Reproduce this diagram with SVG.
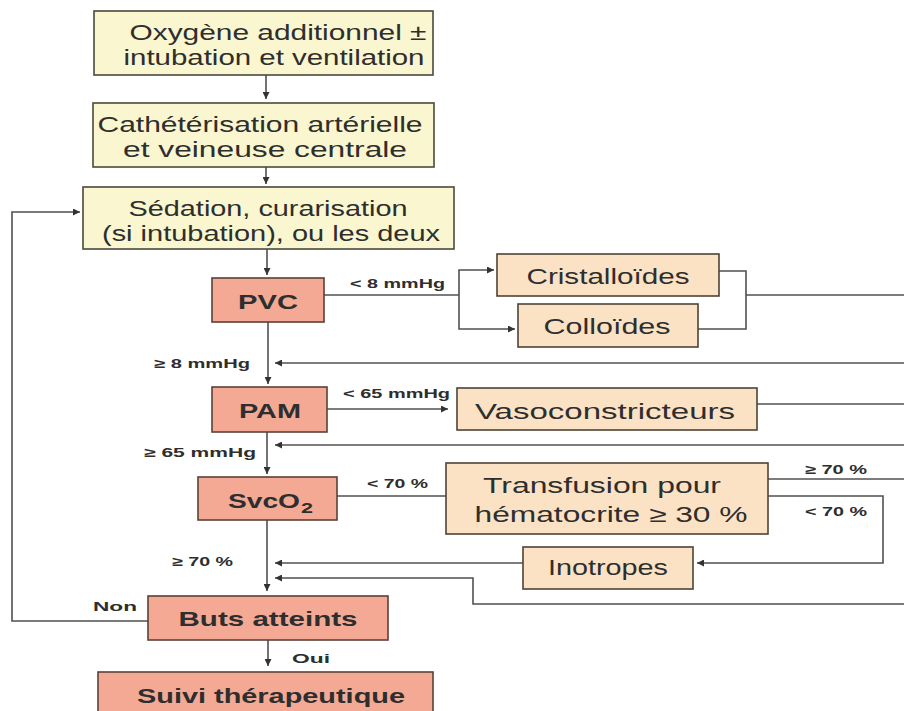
<svg xmlns="http://www.w3.org/2000/svg" width="904" height="711" viewBox="0 0 904 711">
<defs>
<style>
.y{fill:#faf6cf;stroke:#4a4a3c;stroke-width:1.6}
.s{fill:#f3a994;stroke:#5a4038;stroke-width:1.6}
.p{fill:#fbe2c4;stroke:#4e4436;stroke-width:1.6}
text{font-family:"Liberation Sans",Arial,sans-serif;fill:#2e2e2e;}
.t{font-size:22px;text-anchor:middle}
.b{font-size:21px;font-weight:bold;text-anchor:middle}
.l{font-size:13px;font-weight:bold}
.c{fill:none;stroke:#505050;stroke-width:1.6}
</style>
<marker id="a" viewBox="0 0 10 10" refX="10" refY="5" markerWidth="7" markerHeight="7" orient="auto" markerUnits="userSpaceOnUse">
<path d="M0,0 L10,5 L0,10 z" fill="#333"/>
</marker>
</defs>
<rect width="904" height="711" fill="#fff"/>
<g id="connectors">
<path class="c" d="M266,75 V99" marker-end="url(#a)"/>
<path class="c" d="M266,167 V184" marker-end="url(#a)"/>
<path class="c" d="M267,249 V275" marker-end="url(#a)"/>
<path class="c" d="M324,295 H459"/>
<path class="c" d="M459,295 V270 H494" marker-end="url(#a)"/>
<path class="c" d="M459,295 V329 H515" marker-end="url(#a)"/>
<path class="c" d="M719,271 H746 V329 H698"/>
<path class="c" d="M746,295 H904"/>
<path class="c" d="M904,363 H275" marker-end="url(#a)"/>
<path class="c" d="M268,322 V384" marker-end="url(#a)"/>
<path class="c" d="M327,409 H448" marker-end="url(#a)"/>
<path class="c" d="M757,404 H904"/>
<path class="c" d="M904,445 H275" marker-end="url(#a)"/>
<path class="c" d="M267,432 V474" marker-end="url(#a)"/>
<path class="c" d="M337,496 H446"/>
<path class="c" d="M768,479 H904"/>
<path class="c" d="M768,496 H883 V563 H697" marker-end="url(#a)"/>
<path class="c" d="M523,563 H275" marker-end="url(#a)"/>
<path class="c" d="M904,604 H473 V578 H275" marker-end="url(#a)"/>
<path class="c" d="M267,520 V591" marker-end="url(#a)"/>
<path class="c" d="M148,621 H12 V212 H80" marker-end="url(#a)"/>
<path class="c" d="M268,640 V666" marker-end="url(#a)"/>
<text class="l" x="350" y="288" textLength="95" lengthAdjust="spacingAndGlyphs">&lt; 8 mmHg</text>
<text class="l" x="250" y="368" text-anchor="end" textLength="96" lengthAdjust="spacingAndGlyphs">≥ 8 mmHg</text>
<text class="l" x="343" y="398" textLength="107" lengthAdjust="spacingAndGlyphs">&lt; 65 mmHg</text>
<text class="l" x="256" y="457" text-anchor="end" textLength="112" lengthAdjust="spacingAndGlyphs">≥ 65 mmHg</text>
<text class="l" x="367" y="488" textLength="61" lengthAdjust="spacingAndGlyphs">&lt; 70 %</text>
<text class="l" x="805" y="474" textLength="62" lengthAdjust="spacingAndGlyphs">≥ 70 %</text>
<text class="l" x="805" y="516" textLength="62" lengthAdjust="spacingAndGlyphs">&lt; 70 %</text>
<text class="l" x="233" y="566" text-anchor="end" textLength="61" lengthAdjust="spacingAndGlyphs">≥ 70 %</text>
<text class="l" x="93" y="611" font-size="16" textLength="44" lengthAdjust="spacingAndGlyphs">Non</text>
<text class="l" x="292" y="663" font-size="16" textLength="38" lengthAdjust="spacingAndGlyphs">Oui</text>
</g>
<g id="n1">
<rect class="y" x="94" y="11" width="339" height="64"/>
<text class="t" x="278" y="40" textLength="297" lengthAdjust="spacingAndGlyphs">Oxygène additionnel ±</text>
<text class="t" x="274" y="65" textLength="301" lengthAdjust="spacingAndGlyphs">intubation et ventilation</text>
</g>
<g id="n2">
<rect class="y" x="93" y="103" width="341" height="64"/>
<text class="t" x="260" y="132" textLength="325" lengthAdjust="spacingAndGlyphs">Cathétérisation artérielle</text>
<text class="t" x="265" y="157" textLength="284" lengthAdjust="spacingAndGlyphs">et veineuse centrale</text>
</g>
<g id="n3">
<rect class="y" x="83" y="187" width="371" height="62"/>
<text class="t" x="268" y="216" textLength="279" lengthAdjust="spacingAndGlyphs">Sédation, curarisation</text>
<text class="t" x="271" y="241" textLength="338" lengthAdjust="spacingAndGlyphs">(si intubation), ou les deux</text>
</g>
<g id="pvc">
<rect class="s" x="212" y="278" width="112" height="44"/>
<text class="b" x="268" y="309" textLength="60" lengthAdjust="spacingAndGlyphs">PVC</text>
</g>
<g id="cristalloides">
<rect class="p" x="497" y="254" width="222" height="42"/>
<text class="t" x="608" y="284" font-size="21" textLength="163" lengthAdjust="spacingAndGlyphs">Cristalloïdes</text>
</g>
<g id="colloides">
<rect class="p" x="518" y="304" width="180" height="43"/>
<text class="t" x="607" y="334" font-size="21" textLength="127" lengthAdjust="spacingAndGlyphs">Colloïdes</text>
</g>
<g id="pam">
<rect class="s" x="212" y="387" width="115" height="45"/>
<text class="b" x="270" y="418" textLength="62" lengthAdjust="spacingAndGlyphs">PAM</text>
</g>
<g id="vaso">
<rect class="p" x="457" y="388" width="300" height="42"/>
<text class="t" x="605" y="419" font-size="25" textLength="260" lengthAdjust="spacingAndGlyphs">Vasoconstricteurs</text>
</g>
<g id="svco2">
<rect class="s" x="198" y="477" width="139" height="43"/>
<text x="228" y="508" font-size="21" font-weight="bold" textLength="72" lengthAdjust="spacingAndGlyphs">SvcO</text>
<text x="301" y="513" font-size="15" font-weight="bold" textLength="12" lengthAdjust="spacingAndGlyphs">2</text>
</g>
<g id="transfusion">
<rect class="p" x="446" y="463" width="322" height="71"/>
<text class="t" x="602" y="493" font-size="24" textLength="238" lengthAdjust="spacingAndGlyphs">Transfusion pour</text>
<text class="t" x="611" y="522" font-size="24" textLength="273" lengthAdjust="spacingAndGlyphs">hématocrite ≥ 30 %</text>
</g>
<g id="inotropes">
<rect class="p" x="523" y="547" width="170" height="42"/>
<text class="t" x="608" y="575" font-size="21" textLength="120" lengthAdjust="spacingAndGlyphs">Inotropes</text>
</g>
<g id="buts">
<rect class="s" x="148" y="596" width="240" height="44"/>
<text class="b" x="268" y="626" font-size="22" textLength="179" lengthAdjust="spacingAndGlyphs">Buts atteints</text>
</g>
<g id="suivi">
<rect class="s" x="98" y="672" width="335" height="50"/>
<text class="b" x="271" y="703" font-size="23" textLength="268" lengthAdjust="spacingAndGlyphs">Suivi thérapeutique</text>
</g>
</svg>
